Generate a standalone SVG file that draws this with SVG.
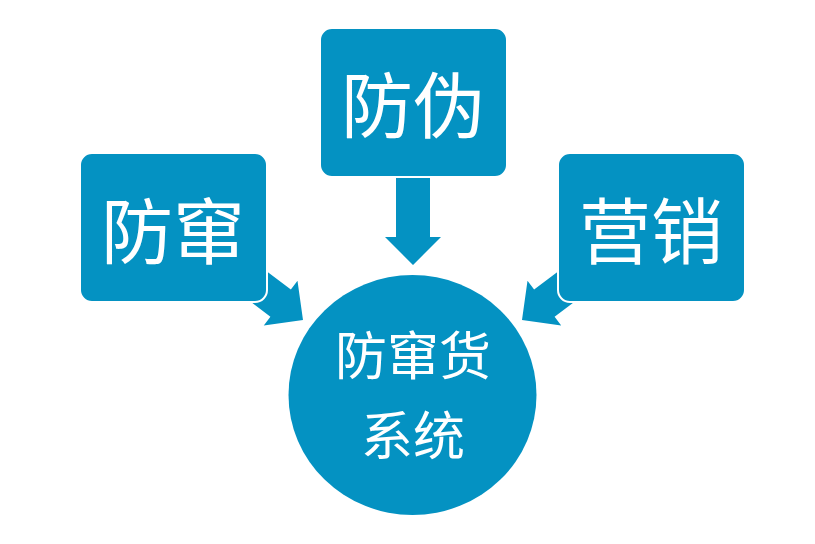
<svg xmlns="http://www.w3.org/2000/svg" width="815" height="544" viewBox="0 0 815 544">
<defs>
<style>
.fill{fill:#0492C2}
.box{fill:#0492C2;stroke:#FFFFFF;stroke-width:2}
.t{fill:#FFFFFF;font-family:"Noto Sans CJK SC","Noto Sans",sans-serif;font-weight:400;text-anchor:middle;dominant-baseline:central}
.big{font-size:72px}
.mid{font-size:52px}
</style>
<polygon id="arr" points="0,0 -28,-28 -28,-17 -95,-17 -95,17 -28,17 -28,28"/>
</defs>
<rect width="815" height="544" fill="#FFFFFF"/>
<g id="connectors" class="fill">
<use href="#arr" transform="translate(413,265) rotate(90)"/>
<use href="#arr" transform="translate(303,320) rotate(37)"/>
<use href="#arr" transform="translate(522,320) rotate(143)"/>
</g>
<g id="node-left">
<rect class="box" x="80" y="153" width="187" height="149" rx="12"/>
<text class="t big" x="173" y="226">防窜</text>
</g>
<g id="node-top">
<rect class="box" x="320" y="28" width="187" height="149" rx="12"/>
<text class="t big" x="413" y="100">防伪</text>
</g>
<g id="node-right">
<rect class="box" x="558" y="153" width="187" height="149" rx="12"/>
<text class="t big" x="651" y="226">营销</text>
</g>
<g id="node-center">
<ellipse class="fill" cx="412.5" cy="395" rx="124" ry="120"/>
<text class="t mid" x="413" y="352">防窜货</text>
<text class="t mid" x="413" y="432">系统</text>
</g>
</svg>
